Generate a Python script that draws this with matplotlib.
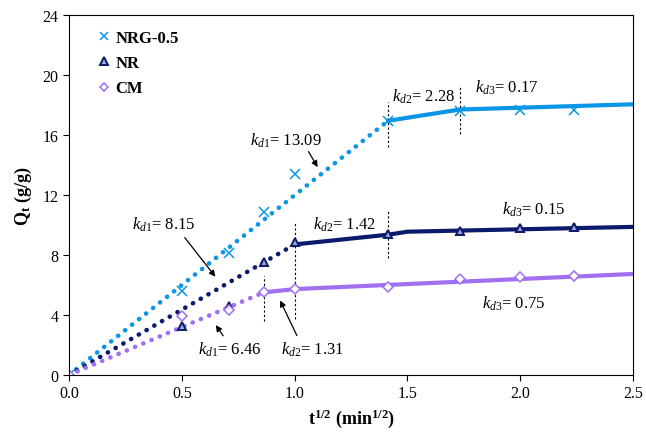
import numpy as np
import matplotlib
matplotlib.use("Agg")
import matplotlib.pyplot as plt

plt.rcParams["font.family"] = "Liberation Serif"
plt.rcParams["mathtext.fontset"] = "custom"
plt.rcParams["mathtext.rm"] = "Liberation Serif"
plt.rcParams["mathtext.it"] = "Liberation Serif:italic"
plt.rcParams["mathtext.bf"] = "Liberation Serif:bold"

# measured points, t^1/2 (min^1/2) vs Qt (g/g)
t_sqrt = [0, 0.5, 0.707, 0.866, 1.0, 1.414, 1.732, 2.0, 2.236]
q_nrg = [0, 5.6, 8.15, 10.85, 13.4, 16.95, 17.6, 17.7, 17.7]
q_nr = [0, 3.25, 4.6, 7.55, 8.85, 9.4, 9.6, 9.8, 9.85]
q_cm = [0, 3.9, 4.35, 5.5, 5.75, 5.85, 6.4, 6.5, 6.6]

# piecewise fits: first stage (dotted) and later stages (solid)
nrg_fit1_x, nrg_fit1_y = [0, 1.414], [0, 16.95]
nrg_fit2_x, nrg_fit2_y = [1.414, 1.732, 2.5], [16.95, 17.7, 18.05]
nr_fit1_x, nr_fit1_y = [0, 1.0], [0, 8.7]
nr_fit2_x, nr_fit2_y = [1.0, 1.414, 1.5, 2.5], [8.7, 9.35, 9.55, 9.87]
cm_fit1_x, cm_fit1_y = [0, 0.863], [0, 5.5]
cm_fit2_x, cm_fit2_y = [0.863, 1.0, 2.5], [5.5, 5.72, 6.73]

# stage boundaries: x, ymin, ymax
boundaries = [(1.414, 15.2, 18.2), (1.732, 16.1, 19.2), (1.0, 3.7, 10.2),
              (1.414, 7.8, 10.9), (0.866, 3.6, 6.6)]

c_nrg = "#0a96e6"
c_nr = "#0b1a6a"
c_cm = "#a070f0"

fig, ax = plt.subplots(figsize=(6.46, 4.35), dpi=100)
fig.subplots_adjust(left=0.107, right=0.98, bottom=0.136, top=0.963)

dot = dict(linestyle=(0, (0.05, 1.9)), dash_capstyle="round", lw=3.3)
ax.plot(nrg_fit1_x, nrg_fit1_y, color=c_nrg, **dot)
ax.plot(nr_fit1_x, nr_fit1_y, color=c_nr, **dot)
ax.plot(cm_fit1_x, cm_fit1_y, color=c_cm, **dot)
ax.plot(nrg_fit2_x, nrg_fit2_y, color=c_nrg, lw=3)
ax.plot(nr_fit2_x, nr_fit2_y, color=c_nr, lw=3)
ax.plot(cm_fit2_x, cm_fit2_y, color=c_cm, lw=3)

for bx, y0, y1 in boundaries:
    ax.plot([bx, bx], [y0, y1], color="black", ls=(0, (2, 2)), lw=0.8)

ax.plot(t_sqrt, q_nrg, ls="none", marker="x", ms=7, mew=1.1, color=c_nrg, label="NRG-0.5")
ax.plot(t_sqrt, q_nr, ls="none", marker="^", ms=6, mew=1.4, mec=c_nr, mfc="#9aa6d8", label="NR")
ax.plot(t_sqrt, q_cm, ls="none", marker="D", ms=5, mew=1.1, mec=c_cm, mfc="white", label="CM")

# rate constant labels
fs = 12
ax.text(0.80, 15.7, r"$k_{d1}$= 13.09", fontsize=fs, va="center")
ax.text(1.43, 18.6, r"$k_{d2}$= 2.28", fontsize=fs, va="center")
ax.text(1.80, 19.2, r"$k_{d3}$= 0.17", fontsize=fs, va="center")
ax.text(0.28, 10.1, r"$k_{d1}$= 8.15", fontsize=fs, va="center")
ax.text(1.08, 10.1, r"$k_{d2}$= 1.42", fontsize=fs, va="center")
ax.text(1.92, 11.1, r"$k_{d3}$= 0.15", fontsize=fs, va="center")
ax.text(0.57, 1.75, r"$k_{d1}$= 6.46", fontsize=fs, va="center")
ax.text(0.94, 1.75, r"$k_{d2}$= 1.31", fontsize=fs, va="center")
ax.text(1.83, 4.8, r"$k_{d3}$= 0.75", fontsize=fs, va="center")

arw = dict(arrowstyle="-|>", color="black", lw=0.9, mutation_scale=9)
ax.annotate("", xy=(1.108, 13.7), xytext=(1.055, 15.05), arrowprops=arw)
ax.annotate("", xy=(0.656, 6.4), xytext=(0.505, 9.3), arrowprops=arw)
ax.annotate("", xy=(0.643, 3.47), xytext=(0.69, 2.45), arrowprops=arw)
ax.annotate("", xy=(0.93, 5.13), xytext=(1.015, 2.45), arrowprops=arw)

ax.set_xlim(0, 2.5)
ax.set_ylim(0, 24)
ax.set_xticks(np.arange(0, 2.51, 0.5))
ax.set_yticks(np.arange(0, 25, 4))
ax.xaxis.set_major_formatter(matplotlib.ticker.FormatStrFormatter("%.1f"))
ax.tick_params(direction="out", labelsize=11.5, length=4)

ax.set_xlabel(r"t$^{\mathbf{1/2}}$ (min$^{\mathbf{1/2}}$)", fontsize=13, fontweight="bold", labelpad=4)
ax.set_ylabel(r"Q$_{\mathbf{t}}$ (g/g)", fontsize=13, fontweight="bold", labelpad=6)

leg = ax.legend(loc="upper left", frameon=False, handletextpad=0.2, handlelength=1.0,
                borderaxespad=0.5, labelspacing=0.55, prop={"weight": "bold", "size": 12},
                bbox_to_anchor=(0.02, 1.0), markerscale=0.85)

plt.savefig("out.png", dpi=100)
